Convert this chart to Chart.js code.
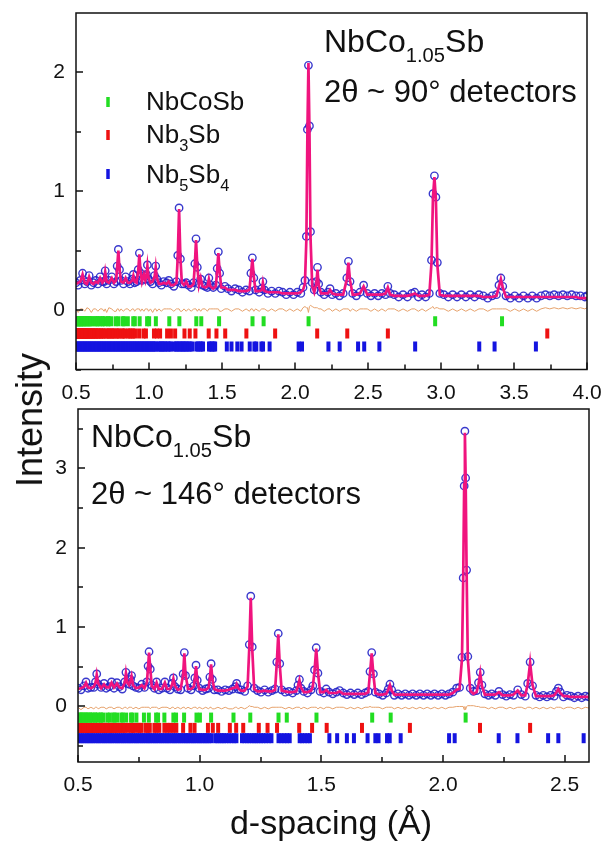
<!DOCTYPE html>
<html>
<head>
<meta charset="utf-8">
<script src="https://cdn.jsdelivr.net/npm/chart.js@4.4.0/dist/chart.umd.min.js"></script>
<style>
  body { margin: 0; background: #fff; width: 605px; height: 846px; position: relative; overflow: hidden;
         font-family: "Liberation Sans", Arial, sans-serif; }
  canvas { position: absolute; left: 0; }
  #topChart { top: 0; }
  #botChart { top: 400px; }
  .axtitle { position: absolute; color: #111; white-space: nowrap; }
  #ylab { left: 30px; top: 420px; font-size: 36px; transform: translate(-50%, -50%) rotate(-90deg); }
  #xlab { left: 331px; top: 822px; font-size: 34px; transform: translate(-50%, -50%); }
</style>
</head>
<body>
<canvas id="topChart" width="605" height="400"></canvas>
<canvas id="botChart" width="605" height="446"></canvas>
<div class="axtitle" id="ylab">Intensity</div>
<div class="axtitle" id="xlab">d-spacing (Å)</div>

<script>
const FONT = '"Liberation Sans", Arial, sans-serif';

// ---- 2theta ~ 90 deg bank: d-spacing, calculated and observed intensity
const topD = [
  0.500,0.515,0.530,0.545,0.560,0.575,0.590,0.605,0.620,0.635,
  0.650,0.665,0.680,0.692,0.700,0.710,0.725,0.745,0.760,0.775,
  0.782,0.790,0.798,0.808,0.825,0.840,0.855,0.870,0.885,0.893,
  0.902,0.915,0.926,0.934,0.942,0.952,0.965,0.975,0.982,0.989,
  0.997,1.010,1.025,1.038,1.046,1.054,1.068,1.085,1.100,1.120,
  1.135,1.150,1.170,1.188,1.197,1.206,1.215,1.225,1.240,1.255,
  1.270,1.290,1.305,1.314,1.322,1.331,1.342,1.354,1.366,1.385,
  1.400,1.410,1.420,1.440,1.458,1.467,1.475,1.484,1.495,1.520,
  1.540,1.565,1.590,1.615,1.640,1.665,1.688,1.698,1.708,1.718,
  1.730,1.755,1.772,1.780,1.790,1.815,1.840,1.865,1.890,1.915,
  1.940,1.965,1.990,2.015,2.040,2.055,2.068,2.078,2.085,2.092,
  2.099,2.106,2.118,2.132,2.146,2.154,2.162,2.178,2.200,2.225,
  2.240,2.255,2.280,2.305,2.330,2.355,2.366,2.377,2.395,2.420,
  2.445,2.470,2.495,2.520,2.545,2.570,2.595,2.620,2.636,2.652,
  2.680,2.710,2.740,2.770,2.800,2.820,2.845,2.870,2.895,2.920,
  2.935,2.945,2.955,2.965,2.975,2.992,3.020,3.050,3.080,3.110,
  3.140,3.170,3.200,3.230,3.260,3.290,3.320,3.350,3.380,3.397,
  3.410,3.423,3.445,3.475,3.505,3.535,3.565,3.595,3.625,3.655,
  3.685,3.715,3.745,3.775,3.805,3.835,3.865,3.895,3.925,3.955,
  3.985,4.000
];
const topCalc = [
  0.22,0.23,0.24,0.30,0.23,0.22,0.28,0.23,0.22,0.24,
  0.23,0.27,0.23,0.25,0.32,0.24,0.23,0.27,0.23,0.25,
  0.36,0.50,0.35,0.24,0.23,0.27,0.23,0.23,0.25,0.29,
  0.24,0.23,0.33,0.47,0.32,0.24,0.30,0.25,0.29,0.37,
  0.27,0.23,0.24,0.28,0.36,0.27,0.22,0.22,0.23,0.22,
  0.24,0.21,0.21,0.23,0.45,0.85,0.44,0.23,0.21,0.24,
  0.20,0.20,0.22,0.38,0.59,0.37,0.21,0.27,0.20,0.19,
  0.20,0.26,0.20,0.18,0.20,0.34,0.48,0.32,0.19,0.19,
  0.17,0.17,0.17,0.16,0.16,0.16,0.17,0.30,0.43,0.28,
  0.16,0.16,0.17,0.23,0.16,0.15,0.15,0.15,0.15,0.14,
  0.14,0.14,0.14,0.14,0.15,0.17,0.22,0.60,1.50,2.08,
  1.52,0.62,0.20,0.15,0.22,0.34,0.21,0.14,0.14,0.14,
  0.17,0.14,0.13,0.13,0.13,0.26,0.40,0.25,0.13,0.13,
  0.14,0.20,0.13,0.13,0.13,0.13,0.13,0.14,0.19,0.13,
  0.12,0.12,0.12,0.12,0.13,0.14,0.12,0.12,0.12,0.13,
  0.40,0.95,1.12,0.93,0.38,0.13,0.12,0.12,0.12,0.12,
  0.12,0.12,0.12,0.12,0.12,0.11,0.11,0.11,0.12,0.20,
  0.26,0.19,0.11,0.11,0.11,0.11,0.11,0.11,0.11,0.11,
  0.11,0.11,0.11,0.11,0.11,0.11,0.11,0.11,0.11,0.10,
  0.10,0.10
];
const topObs = [
  0.23,0.21,0.25,0.31,0.22,0.24,0.29,0.21,0.23,0.25,
  0.22,0.28,0.24,0.24,0.33,0.22,0.25,0.28,0.22,0.24,
  0.37,0.51,0.34,0.25,0.22,0.28,0.24,0.22,0.26,0.30,
  0.23,0.24,0.34,0.48,0.31,0.25,0.29,0.26,0.30,0.38,
  0.26,0.24,0.22,0.29,0.37,0.26,0.23,0.21,0.24,0.23,
  0.25,0.22,0.20,0.24,0.46,0.86,0.43,0.22,0.22,0.23,
  0.21,0.19,0.23,0.39,0.60,0.36,0.22,0.26,0.21,0.20,
  0.19,0.27,0.21,0.19,0.21,0.35,0.49,0.31,0.18,0.20,
  0.18,0.16,0.18,0.17,0.15,0.17,0.16,0.31,0.44,0.27,
  0.17,0.15,0.18,0.24,0.17,0.14,0.16,0.14,0.16,0.15,
  0.13,0.15,0.13,0.15,0.14,0.19,0.25,0.62,1.52,2.06,
  1.55,0.66,0.23,0.17,0.24,0.36,0.22,0.15,0.13,0.15,
  0.18,0.13,0.14,0.12,0.14,0.27,0.41,0.24,0.14,0.12,
  0.15,0.21,0.14,0.12,0.14,0.12,0.14,0.13,0.20,0.14,
  0.13,0.11,0.13,0.11,0.14,0.15,0.11,0.13,0.11,0.14,
  0.42,0.98,1.13,0.95,0.40,0.14,0.13,0.11,0.13,0.11,
  0.13,0.11,0.13,0.11,0.13,0.12,0.10,0.12,0.13,0.21,
  0.27,0.20,0.12,0.10,0.12,0.10,0.12,0.10,0.12,0.10,
  0.12,0.13,0.12,0.13,0.12,0.13,0.12,0.13,0.12,0.12,
  0.11,0.12
];

// ---- 2theta ~ 146 deg bank
const botD = [
  0.500,0.512,0.525,0.533,0.541,0.553,0.565,0.572,0.577,0.583,
  0.595,0.607,0.616,0.628,0.638,0.648,0.660,0.670,0.682,0.692,
  0.697,0.703,0.710,0.716,0.720,0.726,0.738,0.750,0.762,0.773,
  0.783,0.788,0.792,0.797,0.803,0.814,0.823,0.832,0.845,0.857,
  0.866,0.878,0.887,0.892,0.898,0.910,0.922,0.932,0.937,0.942,
  0.952,0.965,0.976,0.980,0.985,0.990,0.998,1.012,1.025,1.037,
  1.042,1.047,1.052,1.060,1.075,1.090,1.105,1.120,1.135,1.147,
  1.152,1.158,1.170,1.185,1.197,1.204,1.210,1.216,1.224,1.238,
  1.252,1.267,1.282,1.297,1.310,1.317,1.323,1.329,1.337,1.352,
  1.367,1.382,1.397,1.404,1.410,1.416,1.428,1.443,1.458,1.465,
  1.472,1.479,1.486,1.495,1.510,1.520,1.532,1.547,1.562,1.575,
  1.590,1.605,1.620,1.635,1.650,1.665,1.680,1.693,1.700,1.707,
  1.714,1.722,1.737,1.752,1.767,1.775,1.782,1.789,1.800,1.815,
  1.830,1.845,1.860,1.875,1.890,1.905,1.920,1.935,1.950,1.965,
  1.980,1.995,2.010,2.025,2.040,2.056,2.068,2.078,2.083,2.087,
  2.090,2.093,2.097,2.102,2.112,2.125,2.138,2.146,2.153,2.160,
  2.172,2.187,2.200,2.215,2.230,2.245,2.260,2.275,2.290,2.307,
  2.322,2.338,2.348,2.358,2.368,2.382,2.397,2.412,2.427,2.442,
  2.457,2.466,2.474,2.482,2.495,2.510,2.525,2.540,2.555,2.570,
  2.585,2.600
];
const botCalc = [
  0.22,0.23,0.25,0.30,0.24,0.23,0.25,0.30,0.40,0.29,
  0.23,0.28,0.24,0.24,0.30,0.24,0.29,0.24,0.23,0.30,
  0.42,0.30,0.27,0.33,0.38,0.27,0.23,0.24,0.27,0.23,
  0.30,0.50,0.68,0.48,0.26,0.22,0.30,0.22,0.22,0.30,
  0.22,0.22,0.28,0.35,0.26,0.21,0.22,0.40,0.67,0.40,
  0.22,0.22,0.25,0.35,0.51,0.34,0.22,0.21,0.21,0.24,
  0.36,0.53,0.35,0.22,0.20,0.20,0.20,0.21,0.23,0.24,
  0.28,0.23,0.20,0.20,0.25,0.75,1.37,0.73,0.22,0.19,
  0.19,0.20,0.19,0.19,0.21,0.55,0.91,0.53,0.20,0.19,
  0.18,0.18,0.19,0.26,0.33,0.24,0.18,0.18,0.20,0.25,
  0.45,0.73,0.43,0.18,0.18,0.21,0.17,0.17,0.17,0.19,
  0.16,0.16,0.16,0.16,0.16,0.16,0.16,0.18,0.42,0.67,
  0.40,0.17,0.15,0.15,0.16,0.21,0.27,0.20,0.15,0.15,
  0.15,0.15,0.15,0.15,0.15,0.15,0.15,0.15,0.15,0.15,
  0.15,0.15,0.15,0.15,0.17,0.21,0.22,0.60,1.60,2.80,
  3.45,2.90,1.70,0.60,0.20,0.16,0.18,0.28,0.42,0.26,
  0.15,0.15,0.15,0.15,0.18,0.14,0.14,0.14,0.15,0.20,
  0.14,0.14,0.28,0.55,0.27,0.13,0.13,0.13,0.13,0.13,
  0.14,0.18,0.22,0.17,0.13,0.13,0.12,0.12,0.12,0.12,
  0.12,0.12
];
const botObs = [
  0.23,0.21,0.26,0.31,0.23,0.24,0.24,0.31,0.41,0.28,
  0.24,0.29,0.23,0.25,0.31,0.23,0.30,0.25,0.22,0.31,
  0.43,0.29,0.28,0.34,0.39,0.26,0.24,0.23,0.28,0.24,
  0.31,0.51,0.69,0.47,0.27,0.23,0.31,0.21,0.23,0.31,
  0.23,0.21,0.29,0.36,0.25,0.22,0.21,0.41,0.68,0.39,
  0.23,0.21,0.26,0.36,0.52,0.33,0.23,0.20,0.22,0.23,
  0.37,0.54,0.34,0.21,0.21,0.19,0.21,0.20,0.22,0.25,
  0.29,0.22,0.21,0.19,0.26,0.78,1.39,0.75,0.23,0.20,
  0.18,0.21,0.18,0.20,0.22,0.56,0.92,0.54,0.21,0.18,
  0.19,0.17,0.20,0.27,0.34,0.23,0.19,0.17,0.21,0.26,
  0.46,0.74,0.42,0.19,0.17,0.22,0.18,0.16,0.18,0.20,
  0.17,0.15,0.17,0.15,0.17,0.15,0.17,0.19,0.44,0.68,
  0.41,0.18,0.16,0.14,0.17,0.22,0.28,0.21,0.14,0.16,
  0.14,0.16,0.14,0.16,0.14,0.16,0.14,0.16,0.14,0.16,
  0.14,0.16,0.14,0.16,0.18,0.23,0.24,0.62,1.62,2.78,
  3.47,2.88,1.72,0.63,0.23,0.19,0.20,0.30,0.43,0.27,
  0.16,0.14,0.16,0.14,0.19,0.15,0.13,0.15,0.14,0.21,
  0.15,0.13,0.29,0.56,0.26,0.14,0.12,0.14,0.12,0.14,
  0.13,0.19,0.23,0.18,0.12,0.14,0.13,0.11,0.13,0.11,
  0.13,0.12
];

// ---- reflection positions (d, Å) of the three phases
const phaseNames = [
  [['NbCoSb']],
  [['Nb'], ['3', 1], ['Sb']],
  [['Nb'], ['5', 1], ['Sb'], ['4', 1]]
];
const phaseColors = ['#22dd22', '#ee1111', '#1414e0'];
const reflNbCoSb = [3.418,2.960,2.093,1.785,1.709,1.480,1.358,1.324,1.208,1.139,1.047,1.001,0.987,
  0.936,0.903,0.892,0.855,0.829,0.821,0.791,0.771,0.740,0.723,0.718,0.698,0.684,0.679,0.662,0.650,
  0.646,0.631,0.621,0.604,0.595,0.592,0.581,0.572,0.570,0.559,0.552,0.550,0.540,0.534,0.532,0.523,
  0.517,0.515,0.508,0.502];
const reflNb3Sb = [3.728,2.636,2.358,2.152,1.864,1.667,1.522,1.462,1.409,1.318,1.279,1.243,1.179,
  1.150,1.124,1.076,1.054,1.034,0.979,0.962,0.932,0.904,0.891,0.879,0.867,0.855,0.834,0.823,0.814,
  0.795,0.786,0.778,0.761,0.753,0.746,0.731,0.725,0.718,0.705,0.692,0.686,0.675,0.670,0.659,0.654,
  0.649,0.639,0.635,0.630,0.621,0.617,0.613,0.605,0.601,0.597,0.589,0.586,0.582,0.575,0.572,0.568,
  0.562,0.559,0.556,0.550,0.547,0.544,0.538,0.535,0.533,0.527,0.525,0.522,0.517,0.514,0.512,0.507,
  0.505,0.503];
const reflNb5Sb4 = [0.502,0.511,0.519,0.528,0.537,0.545,0.554,0.562,0.571,0.580,0.588,0.597,0.606,
  0.614,0.623,0.632,0.640,0.649,0.658,0.666,0.675,0.684,0.692,0.701,0.710,0.718,0.727,0.736,0.744,
  0.753,0.762,0.770,0.779,0.788,0.796,0.805,0.814,0.822,0.831,0.840,0.848,0.857,0.866,0.874,0.883,
  0.892,0.900,0.909,0.918,0.926,0.935,0.944,0.952,0.961,0.970,0.978,0.987,0.996,1.004,1.013,1.022,
  1.030,1.039,1.048,1.064,1.073,1.082,1.091,1.100,1.110,1.120,1.131,1.142,1.151,1.174,1.184,1.194,
  1.204,1.214,1.224,1.233,1.242,1.252,1.262,1.272,1.284,1.295,1.324,1.336,1.348,1.359,1.370,1.411,
  1.421,1.432,1.443,1.453,1.533,1.565,1.605,1.634,1.690,1.722,1.735,1.770,1.781,1.826,2.025,2.048,
  2.229,2.306,2.432,2.474,2.578,2.823,3.262,3.367,3.650];
const reflLists = [reflNbCoSb, reflNb3Sb, reflNb5Sb4];

// tick row heights (intensity units) and difference-curve offsets
const topTickRows = [-0.095, -0.197, -0.306];
const botTickRows = [-0.14, -0.27, -0.40];
const topDiffOffset = 0.0;
const botDiffOffset = -0.02;

// axis ticks
const topXMajor = [0.5,1.0,1.5,2.0,2.5,3.0,3.5,4.0];
const topXMinor = [0.75,1.25,1.75,2.25,2.75,3.25,3.75];
const topYMajor = [0,1,2];
const topYMinor = [-0.5,0.5,1.5];
const botXMajor = [0.5,1.0,1.5,2.0,2.5];
const botXMinor = [0.75,1.25,1.75,2.25];
const botYMajor = [0,1,2,3];
const botYMinor = [-0.5,0.5,1.5,2.5,3.5];

function drawRich(ctx, x, y, parts, size) {
  ctx.textBaseline = 'alphabetic';
  ctx.textAlign = 'left';
  for (const [t, sub] of parts) {
    const s = sub ? size * 0.63 : size;
    ctx.font = s + 'px ' + FONT;
    ctx.fillText(t, x, y + (sub ? size * 0.3 : 0));
    x += ctx.measureText(t).width;
  }
}

const framePlugin = {
  id: 'frame',
  afterDraw(chart, args, o) {
    const { ctx, chartArea: a, scales: { x, y } } = chart;
    ctx.save();
    ctx.strokeStyle = '#111';
    ctx.lineWidth = 1.5;
    ctx.beginPath();
    const tx = (vals, len) => vals.forEach(v => {
      const p = Math.round(x.getPixelForValue(v));
      ctx.moveTo(p, a.bottom); ctx.lineTo(p, a.bottom - len);
    });
    const ty = (vals, len) => vals.forEach(v => {
      const p = Math.round(y.getPixelForValue(v));
      ctx.moveTo(a.left, p); ctx.lineTo(a.left + len, p);
    });
    tx(o.xMajor, 7); tx(o.xMinor, 5);
    ty(o.yMajor, 7); ty(o.yMinor, 5);
    ctx.stroke();
    ctx.strokeRect(a.left, a.top, a.right - a.left, a.bottom - a.top);

    ctx.fillStyle = '#111';
    (o.notes || []).forEach(n => drawRich(ctx, n.x, n.y, n.parts, n.size));

    if (o.legend) {
      const L = o.legend;
      phaseNames.forEach((parts, i) => {
        ctx.strokeStyle = phaseColors[i];
        ctx.lineWidth = 3.5;
        ctx.beginPath();
        ctx.moveTo(L.markX, L.markY[i] - 5);
        ctx.lineTo(L.markX, L.markY[i] + 5);
        ctx.stroke();
        ctx.fillStyle = '#111';
        drawRich(ctx, L.textX, L.textY[i], parts, L.size);
      });
    }
    ctx.restore();
  }
};

function buildChart(id, p) {
  const datasets = [
    {
      type: 'line',
      data: p.d.map((v, i) => ({ x: v, y: p.calc[i] })),
      borderColor: '#f0147e', borderWidth: 2.7, pointRadius: 0, tension: 0
    },
    {
      type: 'scatter',
      data: p.d.map((v, i) => ({ x: v, y: p.obs[i] })),
      pointStyle: 'circle', pointRadius: 3.7, pointBorderWidth: 1.4,
      pointBorderColor: 'rgba(35,35,200,0.9)', pointBackgroundColor: 'rgba(0,0,0,0)'
    },
    {
      type: 'line',
      data: p.d.map((v, i) => ({ x: v, y: p.obs[i] - p.calc[i] + p.diffOffset })),
      borderColor: '#e6a26c', borderWidth: 1, pointRadius: 0, tension: 0
    }
  ];
  reflLists.forEach((list, k) => {
    datasets.push({
      type: 'scatter',
      data: list.filter(v => v >= p.xMin && v <= p.xMax).map(v => ({ x: v, y: p.rows[k] })),
      pointStyle: 'line', pointRotation: 90, pointRadius: 5, pointBorderWidth: 4,
      pointBorderColor: phaseColors[k], pointBackgroundColor: phaseColors[k]
    });
  });

  const tickFont = { family: FONT, size: 21 };
  return new Chart(document.getElementById(id), {
    type: 'scatter',
    data: { datasets },
    options: {
      responsive: false,
      animation: false,
      events: [],
      devicePixelRatio: 1,
      layout: { padding: { top: p.padTop, right: p.padRight, left: 0, bottom: 0 } },
      plugins: {
        legend: { display: false },
        tooltip: { enabled: false },
        frame: p.frame
      },
      scales: {
        x: {
          type: 'linear', min: p.xMin, max: p.xMax,
          grid: { display: false, drawTicks: false },
          border: { display: false },
          ticks: { font: tickFont, color: '#111', padding: 11, maxRotation: 0, autoSkip: false,
                   callback: v => v.toFixed(1) },
          afterBuildTicks: s => { s.ticks = p.frame.xMajor.map(v => ({ value: v })); },
          afterFit: s => { s.height = p.xH; s.paddingLeft = 0; s.paddingRight = 0; }
        },
        y: {
          type: 'linear', min: p.yMin, max: p.yMax,
          grid: { display: false, drawTicks: false },
          border: { display: false },
          ticks: { font: tickFont, color: '#111', padding: 11, autoSkip: false,
                   callback: v => String(v) },
          afterBuildTicks: s => { s.ticks = p.frame.yMajor.map(v => ({ value: v })); },
          afterFit: s => { s.width = p.yW; s.paddingTop = 0; s.paddingBottom = 0; }
        }
      }
    },
    plugins: [framePlugin]
  });
}

buildChart('topChart', {
  d: topD, calc: topCalc, obs: topObs, diffOffset: topDiffOffset, rows: topTickRows,
  xMin: 0.5, xMax: 4.0, yMin: -0.5, yMax: 2.5,
  padTop: 13, padRight: 18, yW: 76, xH: 30.5,
  frame: {
    xMajor: topXMajor, xMinor: topXMinor, yMajor: topYMajor, yMinor: topYMinor,
    notes: [
      { x: 324, y: 52, size: 32, parts: [['NbCo'], ['1.05', 1], ['Sb']] },
      { x: 324, y: 102, size: 31, parts: [['2θ ~ 90° detectors']] }
    ],
    legend: { markX: 108, markY: [102, 135, 174], textX: 146, textY: [110, 143, 183], size: 26 }
  }
});

buildChart('botChart', {
  d: botD, calc: botCalc, obs: botObs, diffOffset: botDiffOffset, rows: botTickRows,
  xMin: 0.5, xMax: 2.6, yMin: -0.7, yMax: 3.75,
  padTop: 7, padRight: 16, yW: 78, xH: 84,
  frame: {
    xMajor: botXMajor, xMinor: botXMinor, yMajor: botYMajor, yMinor: botYMinor,
    notes: [
      { x: 91, y: 47, size: 32, parts: [['NbCo'], ['1.05', 1], ['Sb']] },
      { x: 91, y: 104, size: 31, parts: [['2θ ~ 146° detectors']] }
    ]
  }
});
</script>
</body>
</html>
